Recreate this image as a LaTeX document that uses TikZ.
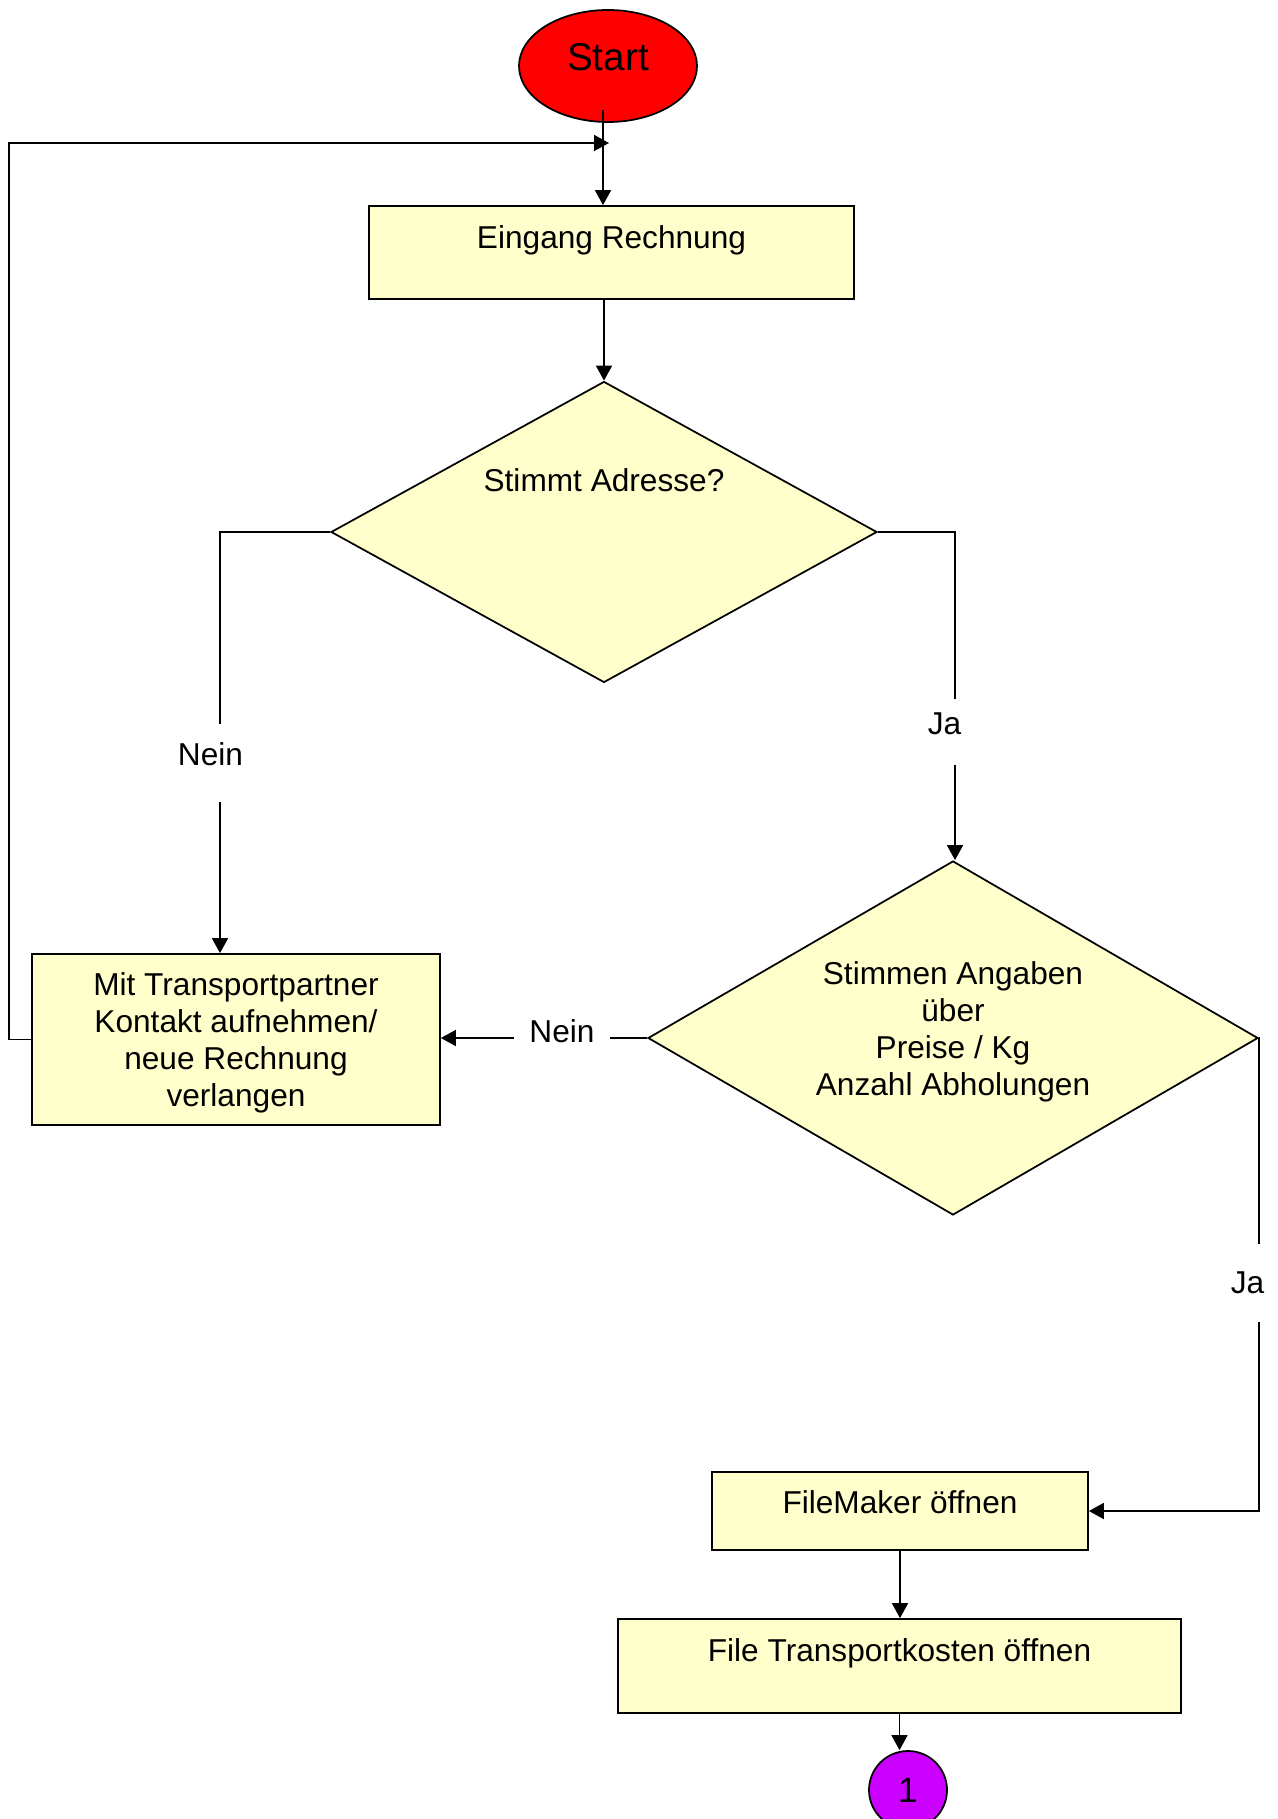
\documentclass[tikz,border=0pt]{standalone}
\usepackage{fontspec}
\setmainfont{Liberation Sans}
\usetikzlibrary{shapes, arrows.meta, calc}
\definecolor{boxfill}{HTML}{FFFFCC}
\definecolor{startred}{HTML}{FF0000}
\definecolor{endpurple}{HTML}{CC00FF}
\newcommand{\flowfont}{\fontsize{18}{21}\selectfont}
\tikzset{
	stepbox/.style={draw, line width=1pt, fill=boxfill, rectangle, inner sep=0pt, align=center, font=\flowfont},
	decision/.style={draw, line width=1pt, fill=boxfill, diamond, aspect=1.75, inner sep=0pt, align=center, font=\flowfont},
	answer/.style={inner xsep=0.3cm, inner ysep=0.55cm, font=\flowfont},
	flow/.style={line width=1pt, -{Triangle[length=0.3cm, width=0.32cm]}},
	link/.style={line width=1pt},
}

\begin{document}
\begin{tikzpicture}[x=1cm, y=-1cm]
	\useasboundingbox (0,0) rectangle (25.54,36.38);
		% nodes = steps and decisions
		\node[ellipse, draw, line width=1pt, fill=startred, minimum width=3.56cm, minimum height=2.24cm, inner sep=0pt, font=\fontsize{22}{26}\selectfont, text height=0.6cm, text depth=0.41cm] (start) at (12.16, 1.32) {Start};
		\node[stepbox, minimum width=9.7cm, minimum height=1.86cm, text height=0.5cm, text depth=0.67cm] (eingang) at (12.23, 5.05) {Eingang Rechnung};
		\node[decision, minimum width=10.92cm, minimum height=6.02cm, text height=0.5cm, text depth=2.125cm] (adresse) at (12.08, 10.64) {Stimmt Adresse?};
		\node[answer, inner ysep=0.37cm, text height=0.455cm, text depth=0.36cm] (nein1) at (4.21, 15.26) {Nein};
		\node[answer, inner ysep=0.24cm, text height=0.455cm, text depth=0.36cm] (ja1) at (18.89, 14.64) {Ja};
		\node[decision, minimum width=12.2cm, minimum height=7.08cm, text height=2.67cm, text depth=0.37cm] (angaben) at (19.06, 20.76) {Stimmen Angaben\\über\\Preise / Kg\\Anzahl Abholungen};
		\node[stepbox, minimum width=8.16cm, minimum height=3.42cm, text height=2.82cm, text depth=0.14cm] (kontakt) at (4.72, 20.79) {Mit Transportpartner\\Kontakt aufnehmen/\\neue Rechnung\\verlangen};
		\node[answer, text height=0.455cm, text depth=0.28cm] (nein2) at (11.24, 20.76) {Nein};
		\node[answer] (ja2) at (24.95, 25.66) {Ja};
		\node[stepbox, minimum width=7.52cm, minimum height=1.56cm, text height=0.5cm, text depth=0.405cm] (filemaker) at (18.0, 30.22) {FileMaker öffnen};
		\node[stepbox, minimum width=11.26cm, minimum height=1.88cm, text height=0.5cm, text depth=0.685cm] (kosten) at (17.99, 33.32) {File Transportkosten öffnen};
		\node[circle, draw, line width=1pt, fill=endpurple, minimum size=1.56cm, inner sep=0pt, font=\fontsize{20}{24}\selectfont] (one) at (18.16, 35.8) {1};
		\coordinate (merge) at (12.18, 2.86); % loop back into the main line
		% edges = flow
		\draw[flow] ([xshift=-0.1cm, yshift=0.26cm]start.south) -- ([xshift=-0.1cm]start.south |- eingang.north);
		\draw[flow] (eingang.south -| adresse.north) -- (adresse.north);
		\draw[link] (adresse.west) -| ([xshift=0.19cm]nein1.north);
		\draw[flow] ([xshift=0.19cm]nein1.south) -- ([xshift=0.19cm]nein1.south |- kontakt.north);
		\draw[link] (adresse.east) -| ([xshift=0.21cm]ja1.north);
		\draw[flow] ([xshift=0.21cm]ja1.south) -- ([xshift=0.21cm]ja1.south |- angaben.north);
		\draw[link] (angaben.west) -- (angaben.west -| nein2.east);
		\draw[flow] (nein2.west) -- (nein2.west -| kontakt.east);
		\draw[flow] (kontakt.west) -- ++(-0.44,0) |- (merge);
		\draw[link] (angaben.east) -| ([xshift=0.23cm]ja2.north);
		\draw[flow] ([xshift=0.23cm]ja2.south) |- (filemaker.east);
		\draw[flow] (filemaker.south) -- (filemaker.south |- kosten.north);
		\draw[flow] (kosten.south) -- (kosten.south |- one.north);
\end{tikzpicture}
\end{document}
